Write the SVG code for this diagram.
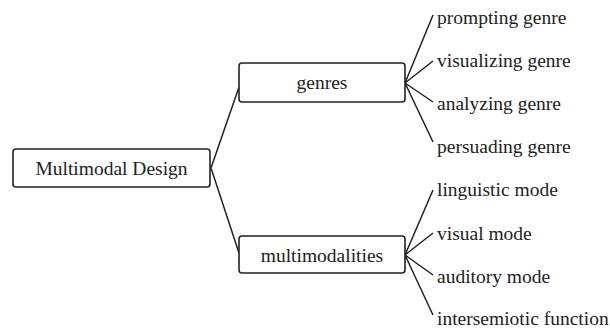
<svg xmlns="http://www.w3.org/2000/svg" width="610" height="331" viewBox="0 0 610 331">
<style>
.box{fill:#fff;stroke:#222;stroke-width:1.6}
.t{font-family:"Liberation Serif","Times New Roman",serif;font-size:19.5px;fill:#222}
.c{text-anchor:middle}
.ln{stroke:#222;stroke-width:1.5;fill:none}
</style>
<rect width="610" height="331" fill="#fff"/>
<g id="connectors">
<path class="ln" d="M211,168 L239,87 M211,168 L239,253"/>
<path class="ln" d="M405,83 L433,15 M405,83 L433,61 M405,83 L433,102 M405,83 L433,142"/>
<path class="ln" d="M405,255 L433,190 M405,255 L433,233 M405,255 L433,275 M405,255 L433,315"/>
</g>
<g id="root">
<rect class="box" x="13" y="149" width="197" height="38" rx="3"/>
<text class="t c" x="111.5" y="175">Multimodal Design</text>
</g>
<g id="genres">
<rect class="box" x="239" y="63" width="166" height="39" rx="3"/>
<text class="t c" x="322" y="89">genres</text>
</g>
<g id="multimodalities">
<rect class="box" x="239" y="236" width="166" height="37" rx="3"/>
<text class="t c" x="322" y="262">multimodalities</text>
</g>
<g id="prompting"><text class="t" x="437" y="24">prompting genre</text></g>
<g id="visualizing"><text class="t" x="437" y="67">visualizing genre</text></g>
<g id="analyzing"><text class="t" x="437" y="110">analyzing genre</text></g>
<g id="persuading"><text class="t" x="437" y="153">persuading genre</text></g>
<g id="linguistic"><text class="t" x="437" y="196">linguistic mode</text></g>
<g id="visual"><text class="t" x="437" y="240">visual mode</text></g>
<g id="auditory"><text class="t" x="437" y="283">auditory mode</text></g>
<g id="intersemiotic"><text class="t" x="437" y="325">intersemiotic function</text></g>
</svg>
